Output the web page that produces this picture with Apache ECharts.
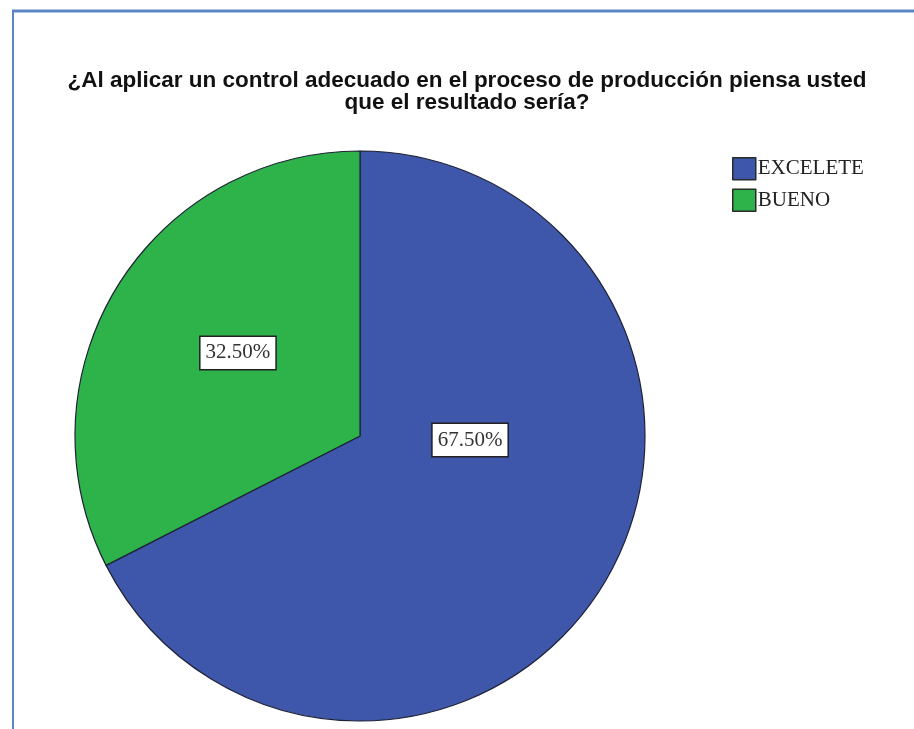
<!DOCTYPE html>
<html>
<head>
<meta charset="utf-8">
<style>
  html, body { margin: 0; padding: 0; background: #ffffff; }
  #chart { width: 914px; height: 729px; }
</style>
<script src="https://cdn.jsdelivr.net/npm/echarts@6/dist/echarts.min.js"></script>
</head>
<body>
<div id="chart"></div>
<script>
// Survey answers and their shares (%)
const categories = ['EXCELETE', 'BUENO'];
const shares = [67.5, 32.5];
const sliceColors = ['#3F57AA', '#2DB34A'];
// small nudges of the value labels from the default inside position
const labelNudges = [[-14, -72], [2, -7]];

const chart = echarts.init(document.getElementById('chart'), null, { renderer: 'canvas' });

const pieData = categories.map((name, i) => ({
  name: name,
  value: shares[i],
  itemStyle: { color: sliceColors[i] },
  label: { offset: labelNudges[i] }
}));

chart.setOption({
  backgroundColor: '#ffffff',
  animation: false,
  title: {
    text: '¿Al aplicar un control adecuado en el proceso de producción piensa usted\nque el resultado sería?',
    left: 462,
    textAlign: 'center',
    top: 65,
    textStyle: {
      fontFamily: 'Liberation Sans, Arial, sans-serif',
      fontWeight: 'bold',
      fontSize: 22.5,
      lineHeight: 22,
      color: '#111111'
    }
  },
  legend: {
    orient: 'vertical',
    left: 727,
    top: 152,
    itemWidth: 23,
    itemHeight: 22,
    itemGap: 8,
    icon: 'rect',
    data: categories,
    itemStyle: { borderColor: '#2a2a2a', borderWidth: 1.5 },
    textStyle: {
      fontFamily: 'Liberation Serif, Times New Roman, serif',
      fontSize: 21,
      color: '#222222',
      padding: [2, 0, 0, -3]
    }
  },
  graphic: [
    { type: 'line', shape: { x1: 12, y1: 11, x2: 914, y2: 11 }, style: { stroke: '#5A86C4', lineWidth: 3 }, silent: true },
    { type: 'line', shape: { x1: 13, y1: 10, x2: 13, y2: 729 }, style: { stroke: '#5A86C4', lineWidth: 2 }, silent: true }
  ],
  series: [{
    type: 'pie',
    center: [360, 436],
    radius: [0, 285],
    startAngle: 90,
    clockwise: true,
    avoidLabelOverlap: false,
    itemStyle: { borderColor: '#1e2235', borderWidth: 1.2 },
    emphasis: { disabled: true },
    labelLine: { show: false },
    label: {
      show: true,
      position: 'inside',
      formatter: p => p.value.toFixed(2) + '%',
      fontFamily: 'Liberation Serif, Times New Roman, serif',
      fontSize: 21,
      color: '#333333',
      backgroundColor: '#ffffff',
      borderColor: '#222222',
      borderWidth: 1.5,
      padding: [6, 5, 5, 5]
    },
    data: pieData
  }]
});
</script>
</body>
</html>
